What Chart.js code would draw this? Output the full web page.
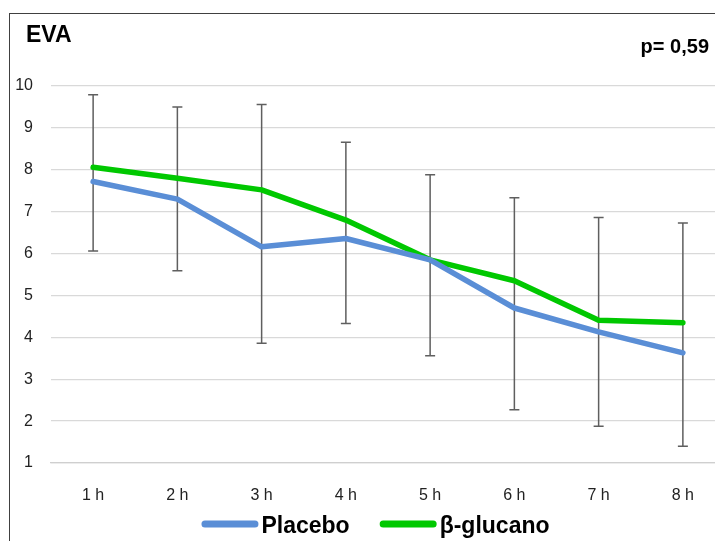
<!DOCTYPE html>
<html>
<head>
<meta charset="utf-8">
<title>EVA</title>
<script src="https://cdn.jsdelivr.net/npm/chart.js@4.4.1/dist/chart.umd.min.js"></script>
<style>
  html, body { margin: 0; padding: 0; background: #fff; overflow: hidden; }
  #frame {
    position: absolute; left: 9px; top: 13px; width: 760px; height: 560px;
    border-left: 1px solid #404040; border-top: 1px solid #404040;
  }
  #chart { position: absolute; left: 0; top: 0; }
</style>
</head>
<body>
<div id="frame"><canvas id="chart" width="735" height="527"></canvas></div>
<script>
const hours = ["1 h", "2 h", "3 h", "4 h", "5 h", "6 h", "7 h", "8 h"];
const placebo = [7.72, 7.30, 6.16, 6.36, 5.85, 4.70, 4.13, 3.63];
const betaGlucan = [8.06, 7.80, 7.52, 6.80, 5.85, 5.35, 4.41, 4.35];
const errHigh = [9.79, 9.50, 9.56, 8.66, 7.88, 7.33, 6.86, 6.73];
const errLow = [6.06, 5.59, 3.86, 4.33, 3.56, 2.27, 1.88, 1.40];
const chartTitle = "EVA";
const pValue = "p= 0,59";

const FONT = '"Liberation Sans", Arial, sans-serif';

// vertical bars with caps, drawn under the lines
const errorBars = {
  id: "errorBars",
  beforeDatasetsDraw(chart) {
    const { ctx, scales: { x, y } } = chart;
    ctx.save();
    ctx.strokeStyle = "#5f5f5f";
    ctx.lineWidth = 1.5;
    hours.forEach((h, i) => {
      const px = x.getPixelForValue(i);
      const top = y.getPixelForValue(errHigh[i]);
      const bot = y.getPixelForValue(errLow[i]);
      ctx.beginPath();
      ctx.moveTo(px, top); ctx.lineTo(px, bot);
      ctx.moveTo(px - 5, top); ctx.lineTo(px + 5, top);
      ctx.moveTo(px - 5, bot); ctx.lineTo(px + 5, bot);
      ctx.stroke();
    });
    ctx.restore();
  }
};

// title, p value and the legend row
const labelsAndLegend = {
  id: "labelsAndLegend",
  afterDraw(chart) {
    const ctx = chart.ctx;
    ctx.save();
    ctx.fillStyle = "#000";
    ctx.textBaseline = "alphabetic";
    ctx.font = "bold 23px " + FONT;
    ctx.textAlign = "left";
    ctx.fillText(chartTitle, 16, 28);
    ctx.font = "bold 20px " + FONT;
    ctx.textAlign = "right";
    ctx.fillText(pValue, 699, 39);

    ctx.font = "bold 23px " + FONT;
    ctx.textAlign = "left";
    const items = chart.data.datasets.map(ds => ({
      text: ds.label, color: ds.borderColor, w: ctx.measureText(ds.label).width
    }));
    const swatch = 57, gap = 3, between = 30;
    let total = items.reduce((s, it) => s + swatch + gap + it.w, 0) + between * (items.length - 1);
    let x = 365.5 - total / 2;
    const cy = 510;
    items.forEach(it => {
      ctx.strokeStyle = it.color;
      ctx.lineWidth = 7;
      ctx.lineCap = "round";
      ctx.beginPath();
      ctx.moveTo(x + 3.5, cy);
      ctx.lineTo(x + swatch - 3.5, cy);
      ctx.stroke();
      ctx.fillText(it.text, x + swatch + gap, 519);
      x += swatch + gap + it.w + between;
    });
    ctx.restore();
  }
};

new Chart(document.getElementById("chart"), {
  type: "line",
  data: {
    labels: hours,
    datasets: [
      {
        label: "Placebo",
        data: placebo,
        borderColor: "#5a8ed6",
        backgroundColor: "#5a8ed6",
        borderWidth: 5.5,
        borderJoinStyle: "round",
        borderCapStyle: "round",
        pointRadius: 0,
        tension: 0
      },
      {
        label: "β-glucano",
        data: betaGlucan,
        borderColor: "#00c800",
        backgroundColor: "#00c800",
        borderWidth: 5.5,
        borderJoinStyle: "round",
        borderCapStyle: "round",
        pointRadius: 0,
        tension: 0
      }
    ]
  },
  options: {
    responsive: false,
    animation: false,
    layout: { padding: { top: 72, right: 20, bottom: 38, left: 0 } },
    plugins: {
      legend: { display: false },
      title: { display: false },
      tooltip: { enabled: false }
    },
    scales: {
      x: {
        offset: true,
        grid: { display: false, drawTicks: false, offset: true },
        border: { display: true, color: "#cfcfcf", width: 1.3 },
        ticks: { font: { family: FONT, size: 16 }, color: "#222", padding: 23 },
        afterFit(s) { s.height = 40; }
      },
      y: {
        min: 1,
        max: 10,
        grid: { color: "#d9d9d9", lineWidth: 1.3, drawTicks: false },
        border: { display: false },
        ticks: { stepSize: 1, font: { family: FONT, size: 16 }, color: "#222", padding: 18 },
        afterFit(s) { s.width = 41; }
      }
    }
  },
  plugins: [errorBars, labelsAndLegend]
});
</script>
</body>
</html>
